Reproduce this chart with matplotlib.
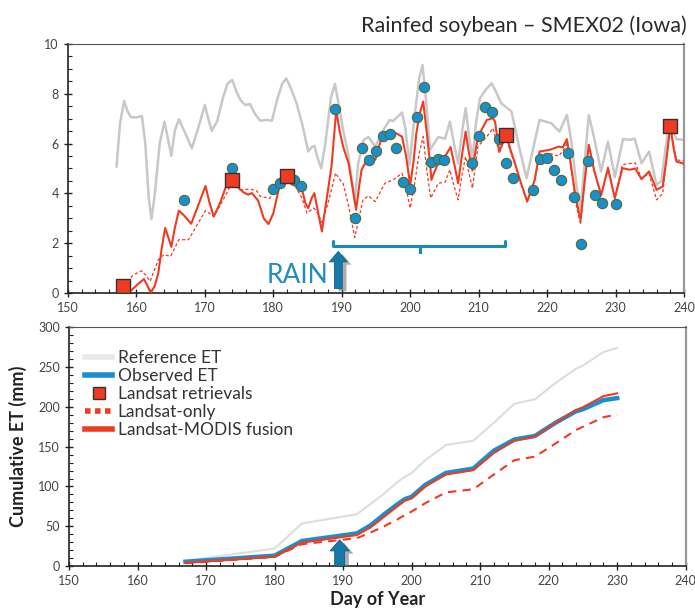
import numpy as np
import matplotlib
matplotlib.use("Agg")
import matplotlib.pyplot as plt
from matplotlib.lines import Line2D
from matplotlib.patches import FancyArrow
import matplotlib.patheffects as pe

plt.rcParams['font.family'] = ['Lato', 'DejaVu Sans']

# ---- top panel: daily ET (mm/day) ----
ref_days = [157.1, 157.6, 158.2, 158.7, 159.2, 160.0, 160.8, 161.3, 161.8, 162.2, 162.7, 163.4,
            164.1, 164.6, 165.1, 165.6, 166.2, 167.0, 168.1, 169.0, 170.0, 170.5, 171.0, 171.8,
            172.6, 173.3, 174.0, 174.6, 175.2, 175.9, 176.6, 177.3, 178.1, 179.0, 179.8, 180.6,
            181.3, 181.9, 182.6, 183.4, 184.3, 185.1, 185.6, 186.0, 186.5, 187.0, 187.6, 188.4,
            189.0, 189.6, 190.2, 191.0, 191.9, 192.4, 193.2, 193.9, 194.9, 196.1, 197.0, 197.5,
            198.8, 199.3, 199.9, 200.6, 201.3, 201.8, 202.3, 202.9, 204.1, 205.1, 205.8, 206.4,
            207.0, 207.6, 208.1, 208.6, 209.1, 209.6, 210.2, 211.0, 211.9, 212.5, 213.3, 214.8,
            215.8, 217.0, 217.8, 218.9, 220.6, 221.8, 222.9, 223.6, 224.3, 224.9, 225.5, 226.1,
            226.9, 227.9, 228.9, 229.9, 231.1, 232.1, 232.8, 233.8, 234.9, 236.0, 236.7, 237.3,
            237.9, 238.9, 240.0]
ref_vals = [5.08, 6.8, 7.71, 7.3, 7.06, 7.05, 7.11, 6.0, 3.8, 2.97, 4.0, 6.0,
            6.88, 6.2, 5.51, 6.5, 6.98, 6.5, 5.81, 6.6, 7.55, 7.0, 6.51, 6.9,
            7.8, 8.4, 8.56, 8.1, 7.75, 7.55, 7.59, 7.2, 6.92, 6.95, 6.92, 7.8,
            8.4, 8.62, 8.2, 7.62, 6.7, 5.68, 5.85, 5.91, 5.4, 5.01, 6.0, 7.8,
            8.40, 7.5, 6.55, 5.5, 3.65, 5.2, 6.15, 6.26, 5.88, 6.55, 6.95, 6.9,
            7.25, 6.6, 5.15, 7.0, 8.6, 9.16, 7.8, 5.75, 6.26, 6.2, 6.88, 6.0,
            5.21, 6.5, 7.42, 6.3, 5.35, 6.8, 7.82, 8.15, 8.42, 8.1, 7.62, 7.29,
            6.0, 4.61, 5.6, 6.95, 6.82, 6.48, 7.15, 6.0, 4.3, 3.34, 5.3, 7.15,
            6.2, 4.88, 6.08, 4.65, 6.18, 6.15, 6.2, 5.21, 5.68, 4.34, 4.5, 5.8,
            6.88, 6.18, 6.15]

fus_days = [158.2, 159.1, 160.2, 161.1, 161.6, 162.1, 162.7, 163.2, 163.7, 164.2, 164.7, 165.1,
            165.6, 166.2, 167.0, 168.0, 169.0, 170.1, 170.7, 171.3, 172.2, 173.0, 173.7, 174.3,
            175.0, 175.6, 176.3, 176.9, 177.8, 178.6, 179.3, 180.0, 181.0, 182.1, 182.8, 183.4,
            184.2, 184.7, 185.1, 185.6, 186.0, 186.5, 187.1, 187.7, 188.5, 189.2, 189.7, 190.2,
            191.0, 191.6, 192.1, 192.6, 192.9, 193.4, 194.2, 194.9, 195.8, 196.5, 197.5, 198.8,
            199.4, 200.0, 200.5, 200.9, 201.4, 201.9, 202.4, 202.9, 203.1, 203.6, 204.1, 205.1,
            205.9, 206.5, 207.0, 207.6, 208.1, 208.6, 209.1, 209.6, 209.9, 211.2, 212.1, 212.4,
            213.0, 213.5, 214.1, 214.6, 215.3, 216.2, 217.1, 218.2, 218.9, 220.4, 221.7, 222.3,
            222.9, 223.4, 224.2, 224.9, 225.5, 226.1, 226.9, 227.9, 228.9, 229.9, 231.0, 232.1,
            232.9, 233.8, 234.9, 236.0, 236.9, 237.5, 238.0, 238.5, 238.9, 240.0]
fus_vals = [0.05, 0.07, 0.35, 0.56, 0.3, 0.0, 0.3, 0.8, 1.8, 2.61, 2.2, 1.85,
            2.6, 3.31, 3.1, 2.78, 3.5, 4.30, 3.6, 3.07, 3.6, 4.21, 4.54, 4.45,
            4.2, 4.05, 3.95, 4.01, 3.7, 3.0, 2.77, 3.2, 4.41, 4.75, 4.5, 4.4,
            4.14, 3.6, 3.41, 3.8, 4.01, 3.3, 2.47, 3.6, 5.08, 7.35, 6.5, 5.88,
            5.21, 4.2, 3.34, 4.4, 4.95, 5.21, 5.48, 5.35, 6.22, 6.45, 6.48, 6.28,
            5.5, 4.34, 5.3, 6.42, 7.2, 7.69, 6.5, 5.21, 4.54, 4.9, 5.21, 5.48,
            5.86, 5.1, 4.41, 5.6, 6.48, 5.6, 4.92, 5.8, 6.28, 6.95, 7.02, 6.88,
            5.68, 6.0, 6.3, 5.8, 5.21, 4.4, 3.67, 4.54, 5.68, 5.75, 5.88, 5.85,
            6.18, 5.3, 3.8, 2.94, 4.5, 5.95, 4.9, 3.94, 5.01, 3.81, 5.01, 4.95,
            5.0, 4.57, 4.88, 4.14, 4.28, 5.5, 6.71, 5.8, 5.28, 5.19]

lso_days = [158.6, 159.7, 160.8, 161.4, 162.0, 162.6, 163.2, 164.0, 165.0, 165.6, 166.2, 167.6,
            168.8, 170.1, 171.3, 172.2, 173.2, 174.0, 175.2, 176.6, 177.6, 178.1, 179.5, 180.0,
            181.0, 182.1, 183.4, 184.2, 184.9, 185.9, 186.3, 187.1, 188.0, 189.1, 189.6, 190.2,
            191.0, 191.9, 192.5, 193.1, 193.9, 194.9, 196.3, 197.5, 198.8, 199.4, 200.0, 200.6,
            201.3, 201.9, 202.4, 203.0, 204.1, 205.1, 205.8, 206.4, 207.0, 207.6, 208.1, 208.6,
            209.1, 209.9, 211.2, 212.1, 212.5, 213.0, 213.5, 214.0, 214.6, 215.3, 216.2, 217.1,
            218.2, 218.9, 220.4, 221.7, 222.3, 222.9, 223.4, 224.2, 224.9, 225.5, 226.1, 226.9,
            227.9, 228.9, 229.9, 231.0, 232.1, 232.9, 233.8, 234.9, 236.0, 236.9, 237.5, 238.0,
            238.5, 238.9, 240.0]
lso_vals = [0.47, 0.75, 0.89, 0.7, 0.47, 0.9, 1.34, 1.54, 1.47, 1.8, 2.14, 2.14,
            2.7, 3.31, 3.07, 3.5, 4.01, 4.5, 4.14, 4.17, 4.1, 3.88, 3.8, 4.14,
            4.5, 4.7, 4.2, 3.8, 3.21, 3.41, 3.3, 2.84, 3.6, 4.82, 4.6, 4.4,
            3.5, 2.23, 3.0, 3.74, 3.9, 3.67, 4.41, 4.54, 4.81, 4.2, 3.41, 4.3,
            5.6, 6.28, 5.0, 3.81, 4.41, 4.45, 4.95, 4.3, 3.74, 4.8, 5.48, 4.8,
            4.21, 5.88, 6.28, 6.62, 6.2, 5.6, 6.0, 6.3, 5.7, 5.2, 4.4, 3.67,
            4.54, 5.55, 5.6, 5.5, 5.7, 6.0, 5.2, 3.6, 2.75, 4.5, 5.9, 4.9,
            3.9, 5.05, 3.8, 5.15, 5.2, 5.22, 4.6, 4.8, 3.74, 4.0, 5.5, 6.71,
            5.9, 5.35, 5.3]

obs_days = [167, 174, 180, 181, 183, 184, 189, 192, 193, 194, 195, 196, 197, 198, 199, 200,
            201, 202, 203, 204, 205, 209, 210, 211, 212, 213, 214, 215, 218, 219, 220, 221,
            222, 223, 224, 225, 226, 227, 228, 230]
obs_vals = [3.74, 5.01, 4.18, 4.42, 4.52, 4.28, 7.39, 3.03, 5.84, 5.36, 5.72, 6.31, 6.38, 5.84,
            4.44, 4.17, 7.05, 8.26, 5.25, 5.39, 5.35, 5.21, 6.32, 7.46, 7.26, 6.18, 5.24, 4.60,
            4.14, 5.39, 5.41, 4.92, 4.54, 5.63, 3.84, 1.95, 5.29, 3.93, 3.61, 3.56]

sat_days = [158, 174, 182, 214, 238]
sat_vals = [0.29, 4.54, 4.70, 6.34, 6.71]

# ---- bottom panel: cumulative ET (mm) ----
cum_days = [167, 180, 184, 192, 194, 196, 198, 199, 200, 202, 205, 209, 212, 215, 218,
            221, 224, 225, 228, 230]
cum_ref = [6.5, 22, 53.5, 65, 78, 91, 106, 112, 117, 133, 152, 157.5, 180, 204, 209.5,
           230, 248, 252, 269, 274]
cum_obs = [5.4, 13, 31.5, 41, 51, 65, 78, 84, 87, 102, 117, 122.5, 145, 159, 163.5,
           180, 194.5, 197, 208.5, 211]
cum_fus = [4.2, 12, 29.5, 39, 48.5, 62, 75.5, 82, 85, 100, 115, 120.5, 142, 157.5, 162.5,
           180, 196, 199.5, 213.5, 217]
cum_lso = [3.4, 11.5, 27.5, 35, 42, 50, 59, 64, 68.5, 79, 92.5, 96.5, 115, 133, 137.5,
           154, 171, 175, 187, 190.5]

RED = '#ef3b22'
BLUE = '#1a8fcc'
GRAY = '#c8c8c8'
ARROW = '#1679a6'
TICKC = '#444444'


def style_axes(ax, ymaj, ymin):
    ax.set_xlim(150, 240)
    ax.set_xticks(np.arange(150, 241, 10))
    ax.set_xticks(np.arange(150, 241, 2), minor=True)
    ax.yaxis.set_major_locator(plt.MultipleLocator(ymaj))
    ax.yaxis.set_minor_locator(plt.MultipleLocator(ymin))
    ax.tick_params(which='major', direction='inout', length=6, width=1, colors='#222',
                   labelcolor=TICKC, labelsize=9, top=False, right=False)
    ax.tick_params(which='minor', direction='in', length=3, width=0.8, colors='#222',
                   top=False, right=False)
    for s in ['left', 'bottom']:
        ax.spines[s].set_color('#222')
        ax.spines[s].set_linewidth(1.2)
    ax.spines['top'].set_color('#555')
    ax.spines['top'].set_linewidth(0.8)
    ax.spines['right'].set_color('#999')
    ax.spines['right'].set_linewidth(1.6)


def up_arrow(ax, x, y0, y1, w, hw, hl):
    a = FancyArrow(x, y0, 0, y1 - y0, width=w, head_width=hw, head_length=hl,
                   length_includes_head=True, fc=ARROW, ec='#0f5f85', lw=0.6, zorder=6,
                   path_effects=[pe.SimplePatchShadow(offset=(3, -2), shadow_rgbFace='#777',
                                                      alpha=0.6), pe.Normal()])
    ax.add_patch(a)


fig = plt.figure(figsize=(6.95, 6.11), dpi=100)
ax1 = fig.add_axes([0.0978, 0.5205, 0.8863, 0.4075])
ax2 = fig.add_axes([0.0993, 0.0736, 0.8873, 0.3907])

# top panel
ax1.plot(ref_days, ref_vals, color=GRAY, lw=1.8, zorder=2)
ax1.plot(lso_days, lso_vals, color=RED, lw=0.9, ls=(0, (2.5, 1.8)), zorder=3)
ax1.plot(fus_days, fus_vals, color=RED, lw=1.5, zorder=4)
ax1.scatter(obs_days, obs_vals, s=55, color=BLUE, edgecolor='#4d6b35', lw=0.8, zorder=5)
ax1.scatter(sat_days, sat_vals, s=110, marker='s', color=RED, edgecolor='#333', lw=1.0, zorder=6)
ax1.set_ylim(0, 10)
style_axes(ax1, 2, 0.5)

# rain bracket and arrow
ax1.plot([188.7, 188.7, 213.9, 213.9], [2.07, 1.87, 1.87, 2.07], color='#1a8ab8', lw=2.2,
         solid_capstyle='round', solid_joinstyle='round', zorder=5)
ax1.plot([201.4, 201.4], [1.87, 1.66], color='#1a8ab8', lw=2.2, zorder=5)
up_arrow(ax1, 189.5, 0.18, 1.67, 1.15, 2.6, 0.42)
ax1.text(188.1, 0.41, 'RAIN', color='#1f8dc0', fontsize=19, ha='right', va='baseline')

fig.text(0.988, 0.948, 'Rainfed soybean \u2013 SMEX02 (Iowa)', ha='right', va='baseline',
         fontsize=15.5, fontweight='normal', color='#2a2a2a')

# bottom panel
ax2.plot(cum_days, cum_ref, color='#dddddd', lw=1.5, zorder=2)
ax2.plot(cum_days, cum_obs, color=BLUE, lw=3.2, zorder=3)
ax2.plot(cum_days, cum_fus, color=RED, lw=1.5, zorder=4)
ax2.plot(cum_days, cum_lso, color=RED, lw=1.5, ls=(0, (4, 3)), zorder=4)
ax2.set_ylim(0, 300)
style_axes(ax2, 50, 10)
up_arrow(ax2, 189.5, 0, 33, 1.45, 2.8, 14)

ax2.set_ylabel('Cumulative ET (mm)', fontsize=13, fontweight='bold', color='#222', labelpad=8)
ax2.set_xlabel('Day of Year', fontsize=13, fontweight='bold', color='#222', labelpad=3)

handles = [
    Line2D([], [], color='#e8e8e8', lw=4),
    Line2D([], [], color=BLUE, lw=4),
    Line2D([], [], ls='none', marker='s', ms=8, mfc=RED, mec='#333'),
    Line2D([], [], color=RED, lw=4, ls=(0, (1, 0.8))),
    Line2D([], [], color=RED, lw=4),
]
labels = ['Reference ET', 'Observed ET', 'Landsat retrievals', 'Landsat-only',
          'Landsat-MODIS fusion']
leg = ax2.legend(handles, labels, loc='upper left', bbox_to_anchor=(0.0, 0.97), frameon=False,
                 fontsize=12.5, handlelength=1.6, handletextpad=0.3, labelspacing=0.12,
                 borderaxespad=0.5)
for t in leg.get_texts():
    t.set_color('#333333')

fig.savefig('out.png', dpi=100)
